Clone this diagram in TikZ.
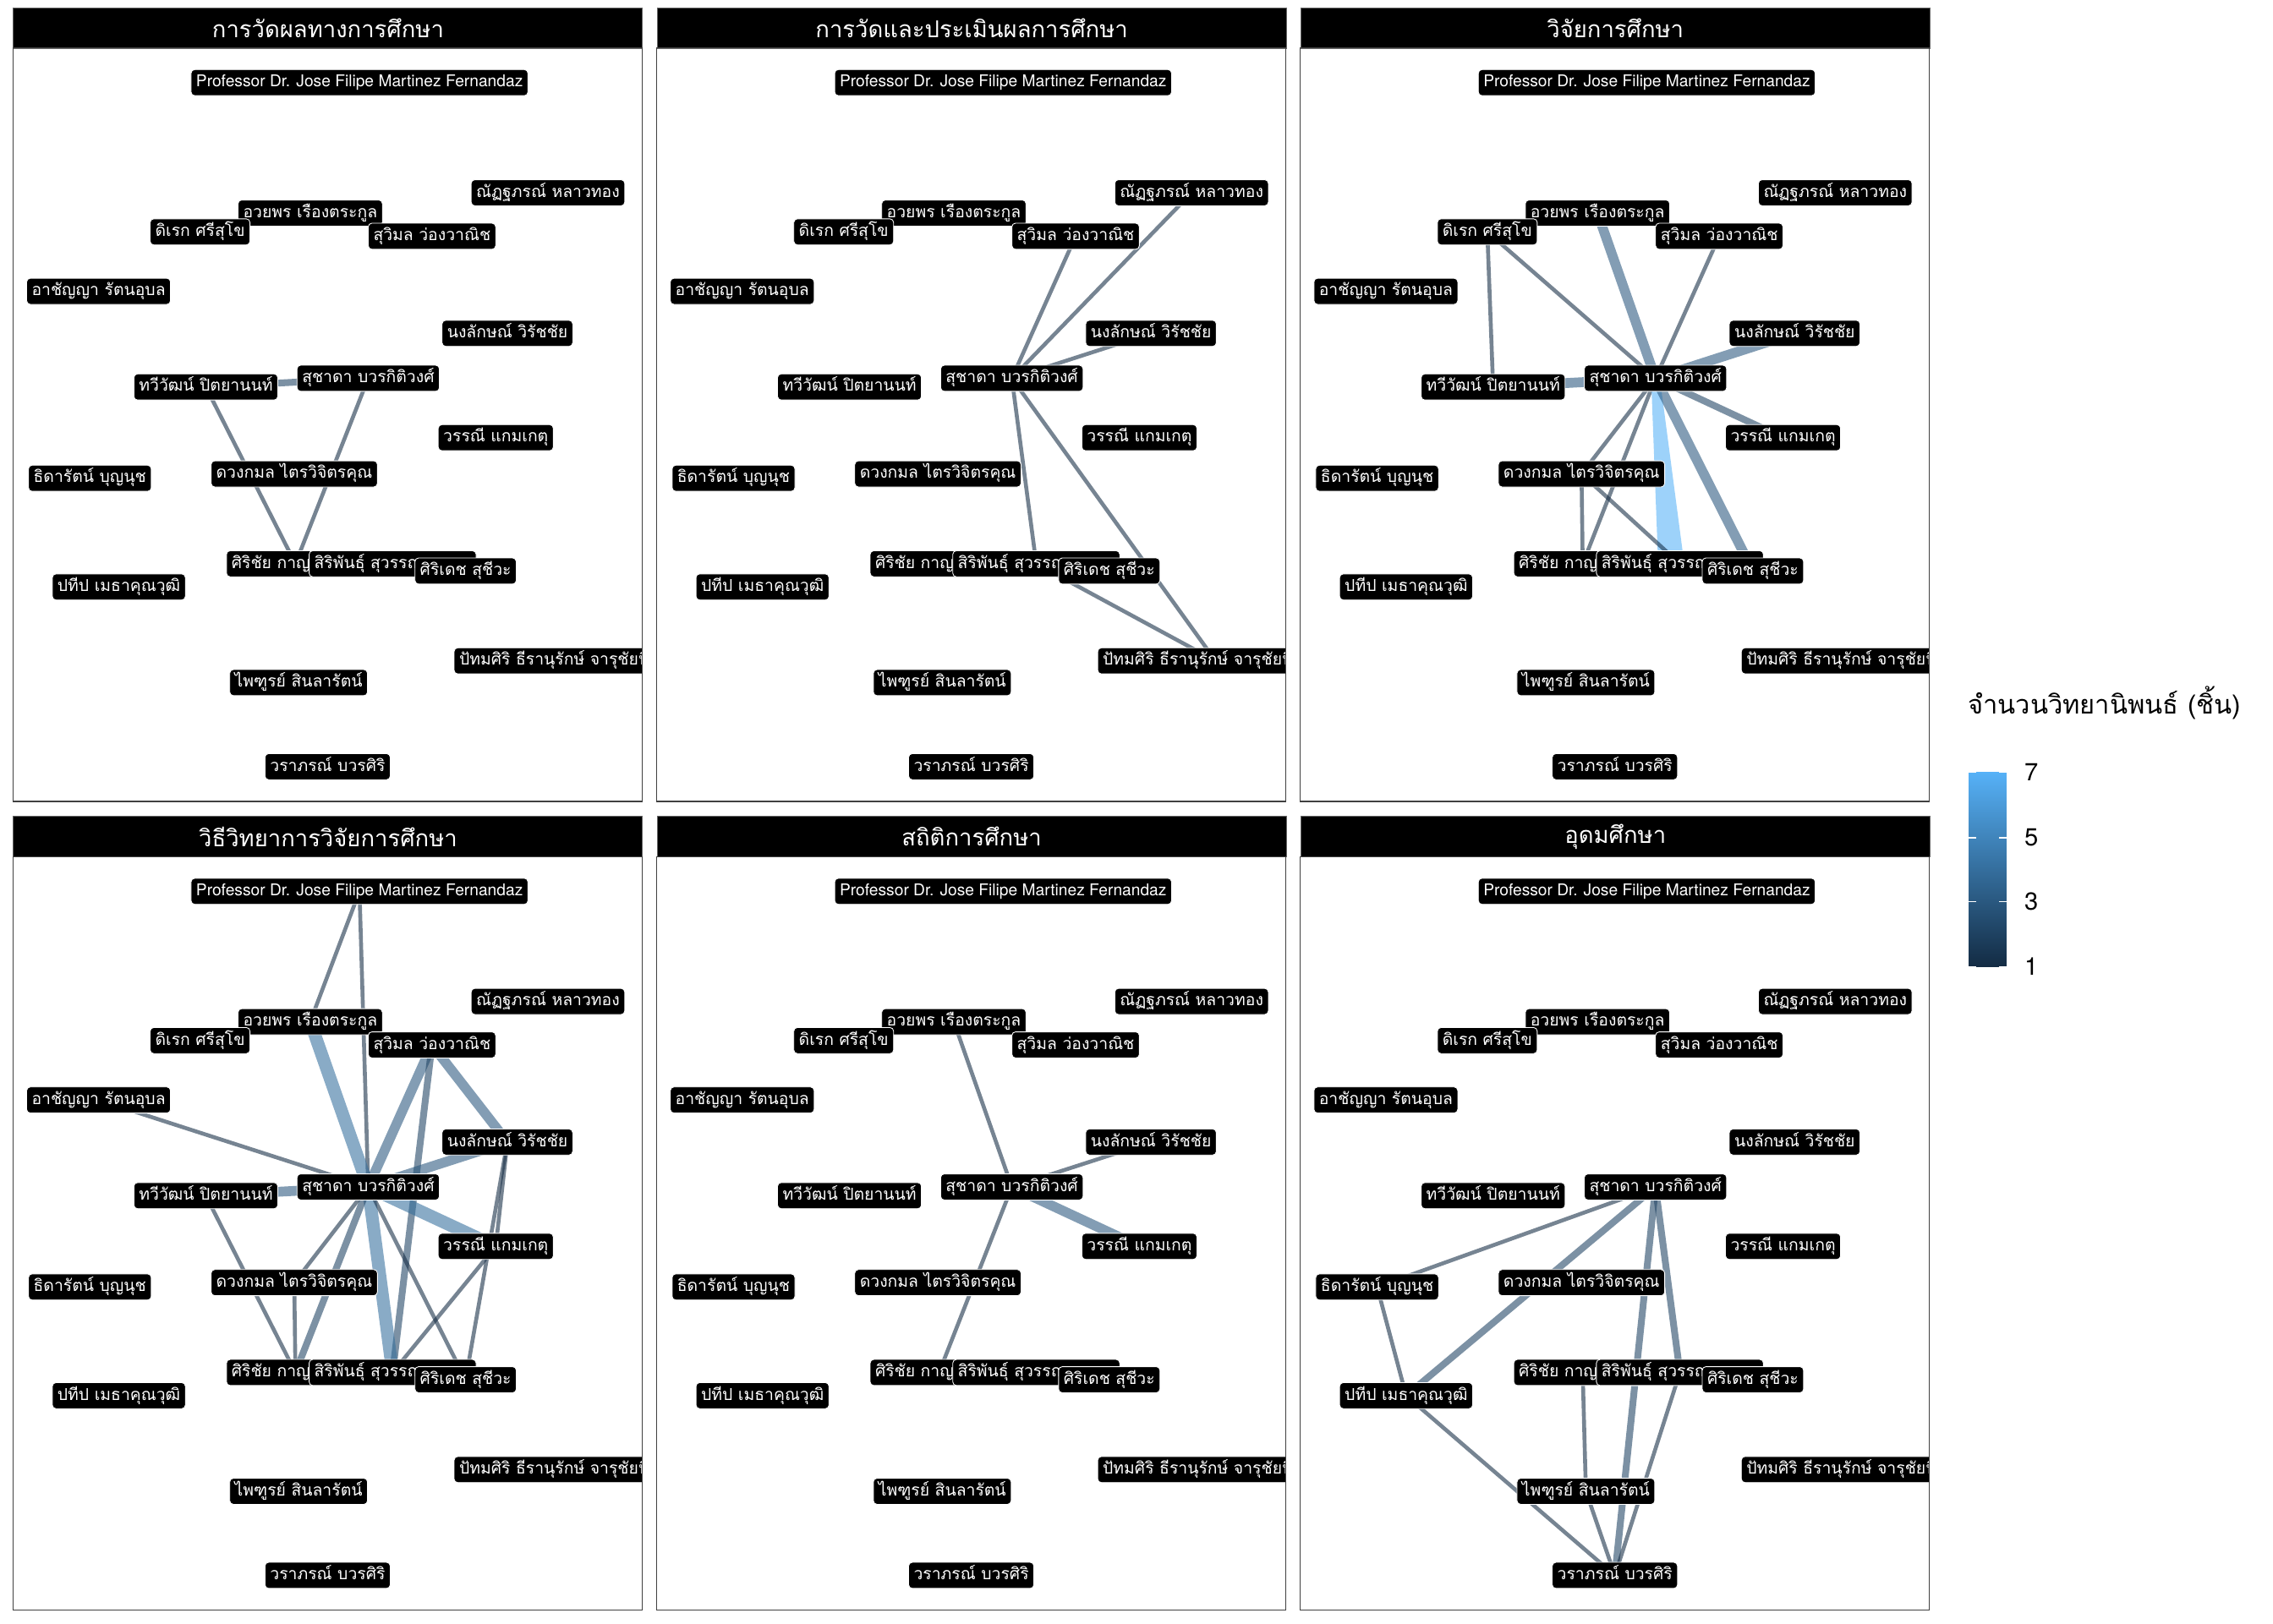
\documentclass[tikz,border=0pt]{standalone}
\usepackage{fontspec}
\setmainfont{TeX Gyre Heros}
\newfontfamily\thaifont[Script=Thai]{Loma}
\usetikzlibrary{backgrounds,calc}

\definecolor{lo}{HTML}{132B43}
\definecolor{hi}{HTML}{56B1F7}
\colorlet{c1}{lo}
\colorlet{c2}{hi!17!lo}
\colorlet{c3}{hi!33!lo}
\colorlet{c4}{hi!50!lo}
\colorlet{c5}{hi!67!lo}
\colorlet{c6}{hi!83!lo}
\colorlet{c7}{hi}

\tikzset{
  who/.style={fill=black, draw=white, line width=0.5pt, rounded corners=2.5pt,
    text=white, font=\thaifont\fontsize{11.3}{13}\selectfont,
    inner xsep=3.5pt, inner ysep=2.5pt, text height=9.5pt, text depth=3.5pt},
  strip/.style={fill=black, draw=black!60, line width=0.6pt, text=white,
    font=\thaifont\fontsize{16}{18}\selectfont, anchor=north west,
    minimum width=434pt, minimum height=28pt},
  frame/.style={draw=black!75, line width=0.7pt},
  tie/.style={draw opacity=0.58},
  t1/.style={tie, draw=c1, line width=2.7pt},
  t2/.style={tie, draw=c2, line width=4.7pt},
  t3/.style={tie, draw=c3, line width=6.8pt},
  t4/.style={tie, draw=c4, line width=8.8pt},
  t5/.style={tie, draw=c5, line width=10.9pt},
  t6/.style={tie, draw=c6, line width=12.9pt},
  t7/.style={tie, draw=c7, line width=15pt},
  tick/.style={draw=white, line width=0.8pt},
  ticklabel/.style={anchor=west, font=\fontsize{17}{19}\selectfont}
}

% one facet: prefix, shift x, shift y, title
\newcommand\facet[4]{%
  \begin{scope}[shift={(#2,#3)}]
    \node[strip] (#1-head) at (9,5) {#4};
    \begin{scope}
      \clip (9,33) rectangle (443,553);
      \node[who, font=\fontsize{11.2}{13}\selectfont] (#1-prof) at (248,57) {Professor Dr. Jose Filipe Martinez Fernandaz};
      \node[who] (#1-natt) at (378,133) {ณัฏฐภรณ์ หลาวทอง};
      \node[who] (#1-auay) at (214,147) {อวยพร เรืองตระกูล};
      \node[who] (#1-direk) at (138,160) {ดิเรก ศรีสุโข};
      \node[who] (#1-suwimon) at (298,163) {สุวิมล ว่องวาณิช};
      \node[who] (#1-achanya) at (68,201) {อาชัญญา รัตนอุบล};
      \node[who] (#1-nongluck) at (350,230) {นงลักษณ์ วิรัชชัย};
      \node[who] (#1-suchada) at (254,261) {สุชาดา บวรกิติวงศ์};
      \node[who] (#1-taweewat) at (142,267) {ทวีวัฒน์ ปิตยานนท์};
      \node[who] (#1-wannee) at (342,302) {วรรณี แกมเกตุ};
      \node[who] (#1-duangkamol) at (203,327) {ดวงกมล ไตรวิจิตรคุณ};
      \node[who] (#1-thidarat) at (62,330) {ธิดารัตน์ บุญนุช};
      \node[who, anchor=west] (#1-sirichai) at (156,389) {ศิริชัย กาญจนวาสี};
      \node[who, anchor=west] (#1-siriphan) at (213,389) {สิริพันธุ์ สุวรรณมรรคา};
      \node[who, anchor=west] (#1-sirideth) at (286,394) {ศิริเดช สุชีวะ};
      \node[who] (#1-pateep) at (82,405) {ปทีป เมธาคุณวุฒิ};
      \node[who, anchor=west] (#1-pattamasiri) at (313,456) {ปัทมศิริ ธีรานุรักษ์ จารุชัยนิวัฒน์};
      \node[who] (#1-paitoon) at (206,471) {ไพฑูรย์ สินลารัตน์};
      \node[who] (#1-waraporn) at (226,529) {วราภรณ์ บวรศิริ};
    \end{scope}
    \draw[frame] (9,33) rectangle (443,553);
  \end{scope}}

\begin{document}
\begin{tikzpicture}[x=1pt, y=-1pt]
\useasboundingbox (0,0) rectangle (1568,1120);

\facet{a}{0}{0}{การวัดผลทางการศึกษา}
\facet{b}{444}{0}{การวัดและประเมินผลการศึกษา}
\facet{c}{888}{0}{วิจัยการศึกษา}
\facet{d}{0}{558}{วิธีวิทยาการวิจัยการศึกษา}
\facet{e}{444}{558}{สถิติการศึกษา}
\facet{f}{888}{558}{อุดมศึกษา}

\begin{scope}[on background layer]
  % การวัดผลทางการศึกษา
  \draw[t2] (a-taweewat.center) -- (a-suchada.center);
  \draw[t1] (a-taweewat.center) -- (a-sirichai.center);
  \draw[t1] (a-suchada.center) -- (a-sirichai.center);
  % การวัดและประเมินผลการศึกษา
  \draw[t1] (b-suchada.center) -- (b-natt.center);
  \draw[t1] (b-suchada.center) -- (b-suwimon.center);
  \draw[t1] (b-suchada.center) -- (b-nongluck.center);
  \draw[t1] (b-suchada.center) -- (b-siriphan.center);
  \draw[t1] (b-suchada.center) -- (b-pattamasiri.center);
  \draw[t1] (b-siriphan.center) -- (b-pattamasiri.center);
  % วิจัยการศึกษา
  \draw[t1] (c-direk.center) -- (c-suchada.center);
  \draw[t1] (c-direk.center) -- (c-taweewat.center);
  \draw[t3] (c-auay.center) -- (c-suchada.center);
  \draw[t1] (c-suwimon.center) -- (c-suchada.center);
  \draw[t3] (c-nongluck.center) -- (c-suchada.center);
  \draw[t3] (c-taweewat.center) -- (c-suchada.center);
  \draw[t2] (c-wannee.center) -- (c-suchada.center);
  \draw[t1] (c-suchada.center) -- (c-duangkamol.center);
  \draw[t1] (c-suchada.center) -- (c-sirichai.center);
  \fill[c7, fill opacity=0.58] ($(c-suchada.center)+(-3,0)$) -- ($(c-suchada.center)+(3,0)$)
    -- ($(c-siriphan.center)+(3,0)$) -- ($(c-siriphan.center)+(-15,0)$) -- cycle;
  \draw[t3] (c-suchada.center) -- (c-sirideth.center);
  \draw[t1] (c-duangkamol.center) -- (c-sirichai.center);
  \draw[t1] (c-duangkamol.center) -- (c-siriphan.center);
  % วิธีวิทยาการวิจัยการศึกษา
  \draw[t1] (d-prof.center) -- (d-suchada.center);
  \draw[t1] (d-prof.center) -- (d-auay.center);
  \draw[t4] (d-auay.center) -- (d-suchada.center);
  \draw[t1] (d-achanya.center) -- (d-suchada.center);
  \draw[t3] (d-taweewat.center) -- (d-suchada.center);
  \draw[t1] (d-taweewat.center) -- (d-sirichai.center);
  \draw[t3] (d-suwimon.center) -- (d-suchada.center);
  \draw[t3] (d-suwimon.center) -- (d-nongluck.center);
  \draw[t2] (d-suwimon.center) -- (d-siriphan.center);
  \draw[t3] (d-nongluck.center) -- (d-suchada.center);
  \draw[t1] (d-nongluck.center) -- (d-wannee.center);
  \draw[t1] (d-nongluck.center) -- (d-sirideth.center);
  \draw[t4] (d-wannee.center) -- (d-suchada.center);
  \draw[t1] (d-wannee.center) -- (d-siriphan.center);
  \draw[t1] (d-duangkamol.center) -- (d-suchada.center);
  \draw[t1] (d-duangkamol.center) -- (d-sirichai.center);
  \draw[t4] (d-suchada.center) -- (d-siriphan.center);
  \draw[t1] (d-suchada.center) -- (d-sirideth.center);
  \draw[t2] (d-suchada.center) -- (d-sirichai.center);
  % สถิติการศึกษา
  \draw[t1] (e-auay.center) -- (e-suchada.center);
  \draw[t1] (e-suchada.center) -- (e-nongluck.center);
  \draw[t3] (e-suchada.center) -- (e-wannee.center);
  \draw[t1] (e-suchada.center) -- (e-sirichai.center);
  % อุดมศึกษา
  \draw[t1] (f-suchada.center) -- (f-thidarat.center);
  \draw[t2] (f-suchada.center) -- (f-pateep.center);
  \draw[t2] (f-suchada.center) -- (f-siriphan.center);
  \draw[t2] (f-suchada.center) -- (f-waraporn.center);
  \draw[t1] (f-thidarat.center) -- (f-pateep.center);
  \draw[t1] (f-pateep.center) -- (f-waraporn.center);
  \draw[t1] (f-sirichai.center) -- (f-paitoon.center);
  \draw[t1] (f-siriphan.center) -- (f-waraporn.center);
  \draw[t1] (f-paitoon.center) -- (f-waraporn.center);
\end{scope}

% legend
\node[anchor=west, font=\thaifont\fontsize{18}{21}\selectfont] (legend-title) at (1354,485) {จำนวนวิทยานิพนธ์ (ชิ้น)};
\shade[bottom color=lo, top color=hi] (1358,533) rectangle (1384,667);
\foreach \v/\yy in {7/533, 5/578, 3/622, 1/667} {
  \draw[tick] (1358,\yy) -- ++(5,0);
  \draw[tick] (1384,\yy) -- ++(-5,0);
  \node[ticklabel] (legend-\v) at (1393,\yy) {\v};
}
\end{tikzpicture}
\end{document}
